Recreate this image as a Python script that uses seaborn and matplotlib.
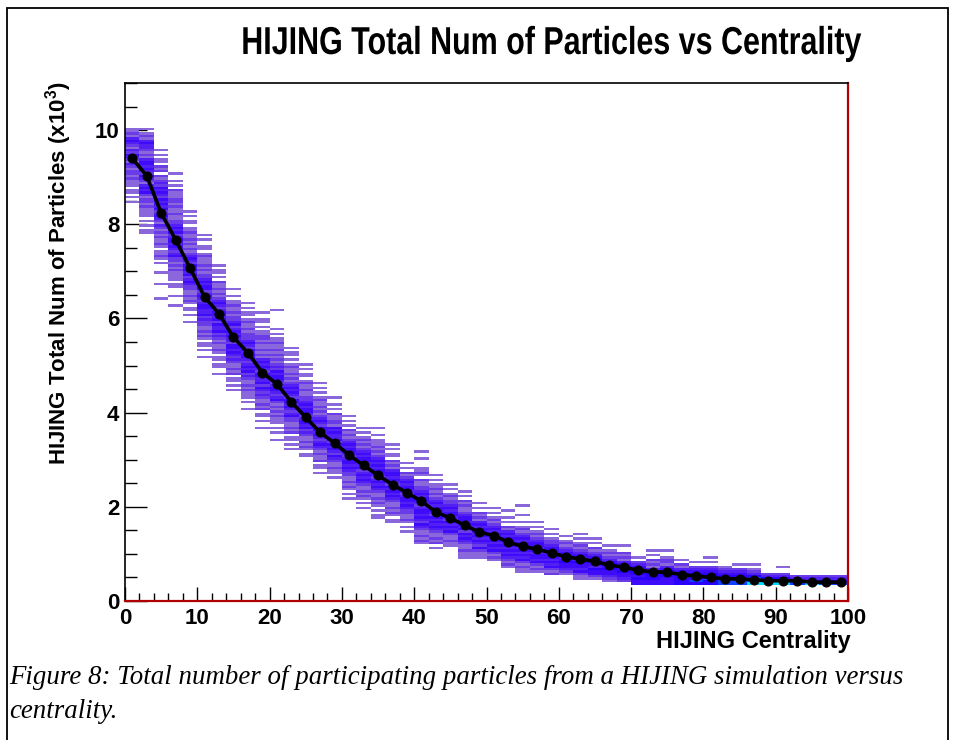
import numpy as np
import pandas as pd
import matplotlib
matplotlib.use("Agg")
import matplotlib.pyplot as plt
from matplotlib.colors import ListedColormap
from matplotlib.ticker import MultipleLocator
from matplotlib.patches import Rectangle
from matplotlib.patheffects import AbstractPathEffect
from matplotlib.transforms import Affine2D
from matplotlib import font_manager as fm
import seaborn as sns

# ---------------------------------------------------------------- data
# Profile: mean number of particles (x10^3) in each 2%-wide centrality bin
prof_centrality = [1, 3, 5, 7, 9, 11, 13, 15, 17, 19,
                   21, 23, 25, 27, 29, 31, 33, 35, 37, 39,
                   41, 43, 45, 47, 49, 51, 53, 55, 57, 59,
                   61, 63, 65, 67, 69, 71, 73, 75, 77, 79,
                   81, 83, 85, 87, 89, 91, 93, 95, 97, 99]
prof_mean = [9.40, 9.03, 8.24, 7.67, 7.07, 6.46, 6.10, 5.60, 5.27, 4.85,
             4.61, 4.23, 3.90, 3.58, 3.35, 3.10, 2.88, 2.67, 2.47, 2.30,
             2.12, 1.89, 1.76, 1.61, 1.46, 1.39, 1.25, 1.16, 1.10, 1.02,
             0.94, 0.89, 0.84, 0.76, 0.72, 0.65, 0.62, 0.61, 0.56, 0.53,
             0.50, 0.47, 0.47, 0.45, 0.43, 0.43, 0.43, 0.40, 0.40, 0.40]

# 2-D histogram: left edge of each centrality bin, top edge (x10^3) of the
# filled cells in that bin, and the cell counts going downwards in steps
# of 0.05 ('.' = empty cell)
bin_left = list(range(0, 100, 2))
col_top = [10.05, 10.05, 9.60, 9.10, 8.30, 7.80, 7.15, 6.65, 6.35, 6.15,
           6.20, 5.40, 5.05, 4.65, 4.35, 3.95, 3.70, 3.70, 3.35, 2.95,
           3.20, 2.70, 2.50, 2.35, 2.10, 2.00, 1.95, 2.05, 1.70, 1.55,
           1.40, 1.45, 1.35, 1.20, 1.20, 0.95, 1.10, 1.10, 0.90, 0.85,
           0.95, 0.75, 0.80, 0.80, 0.60, 0.75, 0.55, 0.55, 0.55, 0.55]
col_cells = [
    "1121343213243213212212111.11.1.1",
    "1.121343321213443432432134342122121111.1.1.11",
    "1.1.11.212.2123243432434342343213212121121.1121.1...1....1.....1.",
    "1..1.1.211122121121122343423443432342212121111.11...1...1.",
    "1.1.11.112112121212343243434234322112121.11.1..1.",
    "1.1..11.1211121212234344234323443342322112121.11.1..1",
    "1.11.1.2112121234323443424334232121121.11.11..1.",
    "1..1.11211212234234343324434323211212.11.1.1",
    "1.1.11.1211212223432434432343423211212111.1..1.",
    "1..11.1.1122121121213434324433424323211212.11.1..1",
    "1.......1.1.1121121212123243443234432342121212111.1.1..1",
    "1.11.1.121121212343432443432342211212.11.1.1",
    "1.1.11.121121122343443234434232112121.11",
    "1.1.1.1211212123432443432343212112.11.1",
    "1..1.1.21122143433424343243211211.1",
    "1.1.1.21212343443234434322112121.1.1",
    "1.1.121212343443342343432112121.1.1",
    "1..1.11121212343434432343432112121.1.11",
    "1.1.11.212134434324343432112121.11",
    "1.1.2123434432344343221121.1.1",
    "1..1...1121.2112234344323443432432112121",
    "1.1.11212123434432434343211212.1",
    "1.1.12122343443243434211211",
    "1.1.2121123443434243432112111",
    "1.1.21213434434343242111",
    "1.1.1212343443434342121",
    "1..1.1.213434434343432121",
    "1...1..1.12123434434343421211",
    "1.1.121234434344342121",
    "1.1.1223443443434212",
    "1.121234434544321",
    "1.1.1212344354434211",
    "1.1.21234544354421",
    "1.12123454544321",
    "1..2121345454432",
    "1.2345554544",
    "1.1.21213455544",
    "1..122134555444",
    "1.213455555",
    "1.23455565",
    "1.1.23455655",
    "12345566",
    "1.2345566",
    "1.1235667",
    "23567",
    "1..23567",
    "2356",
    "2367",
    "2356",
    "2356",
]

count_colors = ["#8a68dc", "#6a3ce8", "#5220f2", "#3e0cfa",
                "#2a00ff", "#1040ff", "#00d8ff"]

# long-form table of filled cells
rows = []
for left, top, cells in zip(bin_left, col_top, col_cells):
    for k, ch in enumerate(cells):
        if ch != ".":
            rows.append((left + 1.0, top - 0.05 * k - 0.025, int(ch)))
hist = pd.DataFrame(rows, columns=["centrality", "particles", "count"])


class Condensed(AbstractPathEffect):
    """Draw text glyphs squeezed horizontally (narrow typeface look)."""

    def __init__(self, factor, anchor="center"):
        super().__init__()
        self.factor = factor
        self.anchor = anchor

    def draw_path(self, renderer, gc, tpath, affine, rgbFace=None):
        ext = tpath.get_extents()
        x0 = 0.5 * (ext.x0 + ext.x1) if self.anchor == "center" else 0.0
        squeeze = Affine2D().translate(-x0, 0).scale(self.factor, 1.0).translate(x0, 0)
        renderer.draw_path(gc, tpath, squeeze + affine, rgbFace)


# ---------------------------------------------------------------- style
sns.set_style("ticks")
names = {f.name for f in fm.fontManager.ttflist}
SANS = "Liberation Sans" if "Liberation Sans" in names else "DejaVu Sans"
SERIF = "Liberation Serif" if "Liberation Serif" in names else "DejaVu Serif"
plt.rcParams["font.family"] = [SANS, "DejaVu Sans"]
plt.rcParams["font.weight"] = "bold"
for key in ("text.color", "axes.labelcolor", "xtick.color", "ytick.color"):
    plt.rcParams[key] = "black"
plt.rcParams["mathtext.fontset"] = "custom"
plt.rcParams["mathtext.bf"] = f"{SANS}:bold"
plt.rcParams["mathtext.rm"] = f"{SANS}:bold"
plt.rcParams["mathtext.default"] = "bf"

W, H = 959, 740
fig = plt.figure(figsize=(W / 100, H / 100), dpi=100)
fig.patch.set_facecolor("white")
ax = fig.add_axes([125 / W, 1 - 601 / H, 723 / W, 518 / H])

cmap = ListedColormap(count_colors)
sns.histplot(data=hist, x="centrality", y="particles", weights="count",
             binwidth=(2, 0.05), binrange=((0, 100), (0, 11)),
             cmap=cmap, vmin=0.5, vmax=7.5, ax=ax, cbar=False)

sns.lineplot(x=prof_centrality, y=prof_mean, color="black", linewidth=2.6,
             marker="o", markersize=6.5, markeredgecolor="black",
             markerfacecolor="black", ax=ax)

ax.set_xlim(0, 100)
ax.set_ylim(0, 11)
ax.set_xticks(range(0, 101, 10))
ax.set_yticks(range(0, 11, 2))
ax.xaxis.set_minor_locator(MultipleLocator(2))
ax.yaxis.set_minor_locator(MultipleLocator(0.5))
ax.tick_params(which="both", direction="in", top=False, right=False,
               color="black", width=1.0, labelsize=16, labelcolor="black")
ax.tick_params(axis="x", which="major", length=10, pad=5)
ax.tick_params(axis="x", which="minor", length=5.5)
ax.tick_params(axis="y", which="major", length=16, pad=4)
ax.tick_params(axis="y", which="minor", length=8.5)
for lab in ax.get_xticklabels() + ax.get_yticklabels():
    lab.set_fontweight("bold")

for side in ("left", "top"):
    ax.spines[side].set_color("black")
    ax.spines[side].set_linewidth(1.2)
for side in ("bottom", "right"):
    ax.spines[side].set_color("#b00000")
    ax.spines[side].set_linewidth(1.6)

ax.set_xlabel("HIJING Centrality", fontsize=17, fontweight="bold",
              loc="right", color="black")
ax.xaxis.set_label_coords(1.003, -0.056)
ax.set_ylabel("HIJING Total Num of Particles (x10$^{3}$)", fontsize=16,
              fontweight="bold", loc="top", color="black")
ax.yaxis.set_label_coords(-0.071, 1.003)

title = fig.text(551 / W, 1 - 44 / H,
                 "HIJING Total Num of Particles vs Centrality",
                 ha="center", va="center", fontsize=28, fontweight="bold",
                 color="black")

cap_kw = dict(ha="left", va="center", fontsize=19.4, fontstyle="italic",
              fontweight="normal", color="black",
              family=[SERIF, "DejaVu Serif"])
cap1 = fig.text(9 / W, 1 - 677 / H,
                "Figure 8: Total number of participating particles from a "
                "HIJING simulation versus", **cap_kw)
cap2 = fig.text(9 / W, 1 - 711 / H, "centrality.", **cap_kw)

# squeeze the heading glyphs so the heading spans its intended width
renderer = fig.canvas.get_renderer()
w_title = title.get_window_extent(renderer).width
title.set_path_effects([Condensed(620 / w_title, "center")])

# page border around the figure
fig.add_artist(Rectangle((7 / W, -0.05), (948 - 7) / W, 1.05 - 8 / H,
                         transform=fig.transFigure, fill=False,
                         edgecolor="black", linewidth=1.3, clip_on=False))

fig.savefig("out.png", dpi=100, facecolor="white")
